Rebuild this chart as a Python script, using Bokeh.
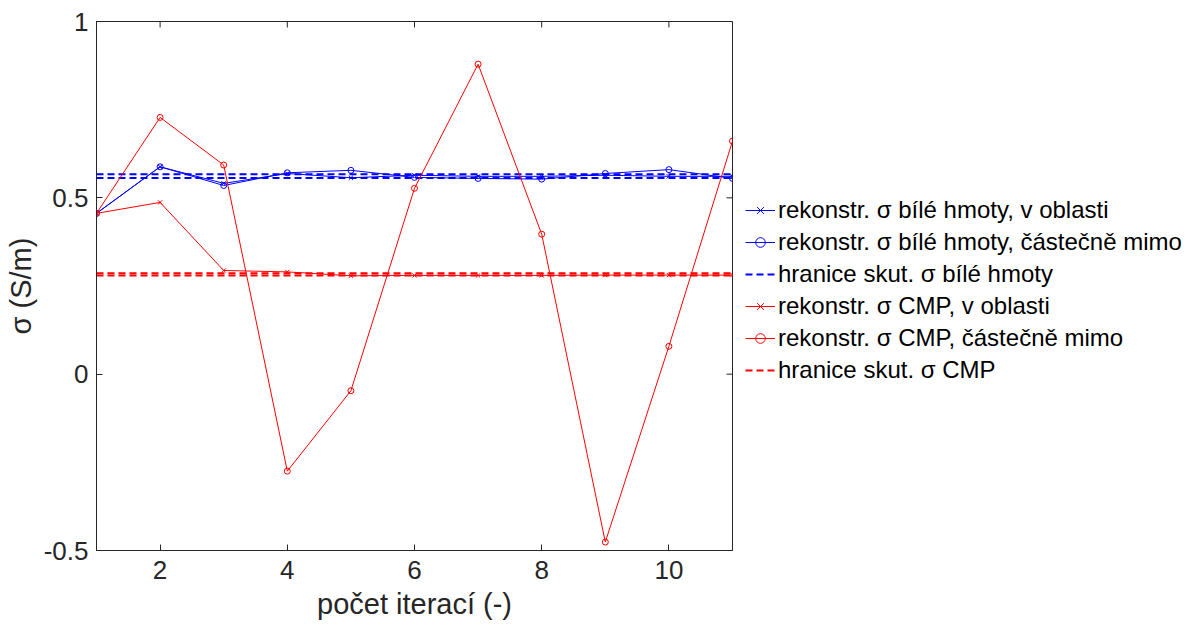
import math
from bokeh.plotting import figure
from bokeh.models import Range1d, FixedTicker, Legend, LegendItem
from bokeh.embed import file_html
from bokeh.resources import INLINE

iterations = [1, 2, 3, 4, 5, 6, 7, 8, 9, 10, 11]
wm_in = [0.456, 0.588, 0.541, 0.569, 0.557, 0.564, 0.561, 0.561, 0.564, 0.561, 0.561]
wm_part = [0.456, 0.588, 0.535, 0.571, 0.578, 0.558, 0.555, 0.553, 0.569, 0.580, 0.555]
wm_bounds = [0.567, 0.556]
cmp_in = [0.456, 0.487, 0.294, 0.290, 0.279, 0.280, 0.280, 0.280, 0.281, 0.281, 0.281]
cmp_part = [0.456, 0.728, 0.593, -0.275, -0.047, 0.527, 0.879, 0.397, -0.476, 0.079, 0.661]
cmp_bounds = [0.280, 0.286]

x_ticks = [2, 4, 6, 8, 10]
y_ticks = [-0.5, 0, 0.5, 1]
y_tick_labels = {-0.5: "-0.5", 0: "0", 0.5: "0.5", 1: "1"}

labels = [
    "rekonstr. σ bílé hmoty, v oblasti",
    "rekonstr. σ bílé hmoty, částečně mimo",
    "hranice skut. σ bílé hmoty",
    "rekonstr. σ CMP, v oblasti",
    "rekonstr. σ CMP, částečně mimo",
    "hranice skut. σ CMP",
]

FONT = "Liberation Sans"
AX = "#262626"
BLUE = "#0000FF"
RED = "#FF0000"

x0, x1 = iterations[0], iterations[-1]
y0, y1 = y_ticks[0], y_ticks[-1]

p = figure(frame_width=636, frame_height=529, min_border_left=96, min_border_top=21,
           min_border_bottom=75, min_border_right=0,
           x_range=Range1d(x0, x1), y_range=Range1d(y0, y1),
           output_backend="svg", toolbar_location=None)
p.grid.visible = False
p.outline_line_color = AX
p.outline_line_width = 1
p.background_fill_color = "white"
p.border_fill_color = "white"

for ax in (p.xaxis[0], p.yaxis[0]):
    ax.major_tick_in = 6
    ax.major_tick_out = 0
    ax.minor_tick_line_color = None
    ax.axis_line_color = AX
    ax.major_tick_line_color = AX
    ax.major_label_text_font = FONT
    ax.major_label_text_font_size = "26px"
    ax.major_label_text_color = AX
    ax.axis_label_text_font = FONT
    ax.axis_label_text_font_size = "29px"
    ax.axis_label_text_color = AX
    ax.axis_label_text_font_style = "normal"

p.xaxis.ticker = FixedTicker(ticks=x_ticks)
p.yaxis.ticker = FixedTicker(ticks=y_ticks)
p.yaxis.major_label_overrides = y_tick_labels
p.xaxis.axis_label = "počet iterací (-)"
p.yaxis.axis_label = "σ (S/m)"
p.xaxis.major_label_standoff = 10
p.yaxis.major_label_standoff = 8
p.xaxis.axis_label_standoff = 6
p.yaxis.axis_label_standoff = 4

# box ticks on top / right edges (half of each dash is clipped by the frame)
p.scatter(x_ticks, [y1] * len(x_ticks), marker="dash", angle=math.pi / 2, size=12,
          line_color=AX, line_width=1)
p.scatter([x1] * len(y_ticks), y_ticks, marker="dash", size=12, line_color=AX, line_width=1)

xs_span = [x0, x1]

items = []
# white matter
r1 = p.line(iterations, wm_in, line_color=BLUE, line_width=1)
m1 = p.scatter(iterations, wm_in, marker="x", size=6, line_color=BLUE, line_width=1)
items.append(LegendItem(label=labels[0], renderers=[r1, m1]))
r2 = p.line(iterations, wm_part, line_color=BLUE, line_width=1)
m2 = p.scatter(iterations, wm_part, marker="circle", size=6, line_color=BLUE, fill_color=None, line_width=1)
items.append(LegendItem(label=labels[1], renderers=[r2, m2]))
rb = [p.line(xs_span, [b, b], line_color=BLUE, line_width=2, line_dash="7 4") for b in wm_bounds]
items.append(LegendItem(label=labels[2], renderers=[rb[0]]))
# CMP
r3 = p.line(iterations, cmp_in, line_color=RED, line_width=1)
m3 = p.scatter(iterations, cmp_in, marker="x", size=6, line_color=RED, line_width=1)
items.append(LegendItem(label=labels[3], renderers=[r3, m3]))
r4 = p.line(iterations, cmp_part, line_color=RED, line_width=1)
m4 = p.scatter(iterations, cmp_part, marker="circle", size=6, line_color=RED, fill_color=None, line_width=1)
items.append(LegendItem(label=labels[4], renderers=[r4, m4]))
rc = [p.line(xs_span, [b, b], line_color=RED, line_width=2, line_dash="7 4") for b in cmp_bounds]
items.append(LegendItem(label=labels[5], renderers=[rc[0]]))

legend = Legend(items=items, location=(13, 166), border_line_color=None,
                background_fill_alpha=0, margin=0, padding=3,
                label_text_font=FONT, label_text_font_size="24px", label_text_color="black",
                glyph_width=30, glyph_height=24, label_height=24, spacing=4, label_standoff=3)
p.add_layout(legend, "right")

open("out.html", "w").write(file_html(p, INLINE))
